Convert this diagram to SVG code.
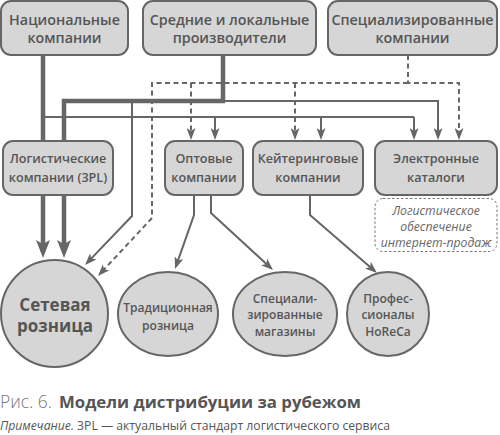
<svg xmlns="http://www.w3.org/2000/svg" width="500" height="435" viewBox="0 0 500 435">
<style>
.box{fill:#d6d6d6;stroke:#666;stroke-width:2}
.t{font-family:"Open Sans","DejaVu Sans",sans-serif;font-weight:600;fill:#555;text-anchor:middle}
.top{font-size:14.3px}
.mid{font-size:12.6px}
.ell{font-size:12px}
.big{font-size:17px;font-weight:700}
.note{font-family:"Open Sans","DejaVu Sans",sans-serif;font-style:italic;font-size:12.2px;fill:#666;text-anchor:middle}
.thin{fill:none;stroke:#666;stroke-width:2}
.thick{fill:none;stroke:#666;stroke-width:4.5}
.dash{fill:none;stroke:#666;stroke-width:2;stroke-dasharray:5 3.5}
.ta{marker-end:url(#a)}
.tk{marker-end:url(#ak)}
</style>
<defs>
<marker id="a" viewBox="0 0 12 9" refX="9" refY="4.5" markerWidth="12" markerHeight="9" markerUnits="userSpaceOnUse" orient="auto">
<path d="M0,0 L12,4.5 L0,9 L3,4.5 z" fill="#666"/>
</marker>
<marker id="ak" viewBox="0 0 18 14" refX="12" refY="7" markerWidth="18" markerHeight="14" markerUnits="userSpaceOnUse" orient="auto">
<path d="M0,0 L18,7 L0,14 L4,7 z" fill="#666"/>
</marker>
</defs>

<g id="connectors">
<!-- Национальные компании -->
<path class="thick tk" d="M43,55 V252"/>
<path class="thin" d="M43,117 H414"/>
<path class="thin ta" d="M215,117 V137"/>
<path class="thin ta" d="M321,117 V137"/>
<path class="thin ta" d="M414,117 V137"/>
<!-- Средние и локальные производители -->
<path class="thick tk" d="M223,55 V101 H64 V252"/>
<path class="thin ta" d="M223,101 H438 V137"/>
<path class="thin ta" d="M132,101 V216 L87.1,262.9"/>
<!-- Специализированные компании (dashed) -->
<path class="dash ta" d="M408,55 V83 H459 V137"/>
<path class="dash ta" d="M408,83 H152 V218 L100,273.8"/>
<path class="dash ta" d="M191,83 V137"/>
<path class="dash ta" d="M295,83 V137"/>
<!-- Оптовые -->
<path class="thin ta" d="M194,195 V215 L176,266.2"/>
<path class="thin ta" d="M211,195 V213 L270.8,268"/>
<!-- Кейтеринговые -->
<path class="thin ta" d="M310,195 V215 L374.7,271"/>
</g>

<g id="n-national">
<rect class="box" x="1" y="1" width="127" height="54" rx="10"/>
<text class="t top" x="64.5" y="24.5">Национальные</text>
<text class="t top" x="64.5" y="42.5">компании</text>
</g>
<g id="n-producers">
<rect class="box" x="143" y="1" width="173" height="54" rx="10"/>
<text class="t top" x="229.5" y="24.5">Средние и локальные</text>
<text class="t top" x="229.5" y="42.5">производители</text>
</g>
<g id="n-specialized">
<rect class="box" x="328" y="1" width="169" height="54" rx="10"/>
<text class="t top" x="412.5" y="24.5">Специализированные</text>
<text class="t top" x="412.5" y="42.5">компании</text>
</g>

<g id="n-logistics">
<rect class="box" x="3" y="141" width="110" height="54" rx="10"/>
<text class="t mid" x="58" y="162.5">Логистические</text>
<text class="t mid" x="58" y="181.5">компании (3PL)</text>
</g>
<g id="n-wholesale">
<rect class="box" x="165" y="141" width="78" height="54" rx="10"/>
<text class="t mid" x="204" y="162.5">Оптовые</text>
<text class="t mid" x="204" y="181.5">компании</text>
</g>
<g id="n-catering">
<rect class="box" x="253" y="141" width="110" height="54" rx="10"/>
<text class="t mid" x="308" y="162.5">Кейтеринговые</text>
<text class="t mid" x="308" y="181.5">компании</text>
</g>
<g id="n-catalogs">
<rect class="box" x="375" y="141" width="122" height="54" rx="10"/>
<text class="t mid" x="436" y="162.5">Электронные</text>
<text class="t mid" x="436" y="181.5">каталоги</text>
</g>
<g id="n-note">
<rect x="375" y="198.5" width="122" height="53" rx="8" fill="none" stroke="#777" stroke-width="1" stroke-dasharray="2.5 2"/>
<text class="note" x="436" y="215">Логистическое</text>
<text class="note" x="436" y="231">обеспечение</text>
<text class="note" x="436" y="247">интернет-продаж</text>
</g>

<g id="n-chain">
<circle class="box" cx="54.5" cy="313.5" r="53.5"/>
<text class="t big" x="55" y="310.5">Сетевая</text>
<text class="t big" x="55" y="332">розница</text>
</g>
<g id="n-traditional">
<ellipse class="box" cx="168" cy="314" rx="50" ry="42"/>
<text class="t ell" x="168" y="312">Традиционная</text>
<text class="t ell" x="168" y="330">розница</text>
</g>
<g id="n-specstores">
<ellipse class="box" cx="285" cy="314" rx="52" ry="42"/>
<text class="t ell" x="285" y="302.5">Специали-</text>
<text class="t ell" x="285" y="319">зированные</text>
<text class="t ell" x="285" y="335.5">магазины</text>
</g>
<g id="n-horeca">
<ellipse class="box" cx="388" cy="314" rx="41" ry="42"/>
<text class="t ell" x="388" y="302.5">Профес-</text>
<text class="t ell" x="388" y="319">сионалы</text>
<text class="t ell" x="388" y="335.5">HoReCa</text>
</g>

<g id="caption">
<text x="0" y="408" font-family="'Open Sans','DejaVu Sans',sans-serif" font-size="17.5" fill="#777" font-weight="300">Рис. 6.</text>
<text x="59" y="408" font-family="'Open Sans','DejaVu Sans',sans-serif" font-size="16.8" fill="#555" font-weight="700">Модели дистрибуции за рубежом</text>
<text x="0" y="429.5" font-family="'Open Sans','DejaVu Sans',sans-serif" font-size="12.2" fill="#555"><tspan font-style="italic">Примечание.</tspan> 3PL — актуальный стандарт логистического сервиса</text>
</g>
</svg>
